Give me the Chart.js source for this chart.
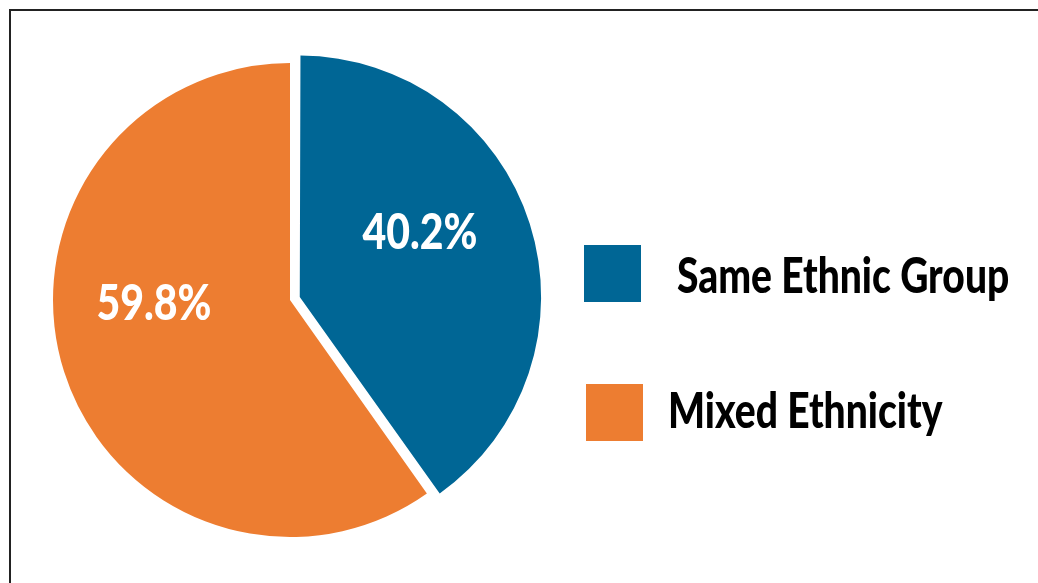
<!DOCTYPE html>
<html>
<head>
<meta charset="utf-8">
<script src="https://cdn.jsdelivr.net/npm/chart.js@4/dist/chart.umd.min.js"></script>
<style>
  html, body { margin: 0; padding: 0; background: #fff; }
  #wrap { position: relative; width: 1038px; height: 583px; overflow: hidden; }
  #frame { position: absolute; left: 9px; top: 9px; width: 1100px; height: 700px;
           border-left: 2px solid #222; border-top: 2px solid #222; }
  canvas { position: absolute; left: 0; top: 0; }
</style>
</head>
<body>
<div id="wrap">
  <div id="frame"></div>
  <canvas id="pie" width="1038" height="583"></canvas>
</div>
<script>
// Share of households by ethnic make-up
const categories = ['Same Ethnic Group', 'Mixed Ethnicity'];
const shares = [40.2, 59.8];
const sliceColors = ['#006695', '#ED7D31'];
const sliceOffsets = [41, 0];

const FONT = 'Lato, "DejaVu Sans Condensed", sans-serif';

// Percentage labels placed inside each slice, in polar terms around the pie centre
const valueLabels = {
  id: 'valueLabels',
  afterDatasetsDraw(chart, args, opts) {
    const ctx = chart.ctx;
    const meta = chart.getDatasetMeta(0);
    meta.data.forEach((arc, i) => {
      const p = arc.getProps(['x', 'y', 'startAngle', 'endAngle', 'outerRadius'], true);
      const place = opts.place[i];
      const mid = (p.startAngle + p.endAngle) / 2 + place.turn * Math.PI / 180;
      const r = p.outerRadius * place.dist;
      const x = p.x + Math.cos(mid) * r;
      const y = p.y + Math.sin(mid) * r;
      ctx.save();
      ctx.font = opts.weight + ' ' + opts.size + 'px ' + FONT;
      ctx.fillStyle = '#ffffff';
      ctx.textAlign = 'center';
      ctx.textBaseline = 'middle';
      ctx.translate(x, y);
      ctx.scale(opts.squeeze, 1);
      ctx.fillText(shares[i].toFixed(1) + '%', 0, 0);
      ctx.restore();
    });
  }
};

// Legend with square swatches to the right of the pie
const sideLegend = {
  id: 'sideLegend',
  afterDraw(chart, args, opts) {
    const ctx = chart.ctx;
    opts.rows.forEach((row, i) => {
      ctx.save();
      ctx.fillStyle = sliceColors[i];
      ctx.fillRect(row.boxX, row.boxY, opts.box, opts.box);
      ctx.font = opts.weight + ' ' + opts.size + 'px ' + FONT;
      ctx.fillStyle = '#000';
      ctx.textBaseline = 'alphabetic';
      ctx.translate(row.textX, row.baseline);
      ctx.scale(opts.squeeze, 1);
      ctx.fillText(categories[i], 0, 0);
      ctx.restore();
    });
  }
};

new Chart(document.getElementById('pie'), {
  type: 'pie',
  data: {
    labels: categories,
    datasets: [{
      data: shares,
      backgroundColor: sliceColors,
      borderWidth: 0,
      offset: sliceOffsets,
      radius: 237
    }]
  },
  options: {
    responsive: false,
    animation: false,
    layout: { padding: { left: 40, right: 498, top: 50, bottom: 33 } },
    plugins: {
      legend: { display: false },
      tooltip: { enabled: false },
      valueLabels: {
        size: 50,
        weight: 900,
        squeeze: 0.82,
        place: [ { dist: 0.618, turn: -9.8 }, { dist: 0.574, turn: 16 } ]
      },
      sideLegend: {
        box: 57,
        size: 50,
        weight: 900,
        squeeze: 0.78,
        rows: [
          { boxX: 584, boxY: 245, textX: 677, baseline: 293 },
          { boxX: 586, boxY: 384, textX: 668, baseline: 428 }
        ]
      }
    }
  },
  plugins: [valueLabels, sideLegend]
});
</script>
</body>
</html>
